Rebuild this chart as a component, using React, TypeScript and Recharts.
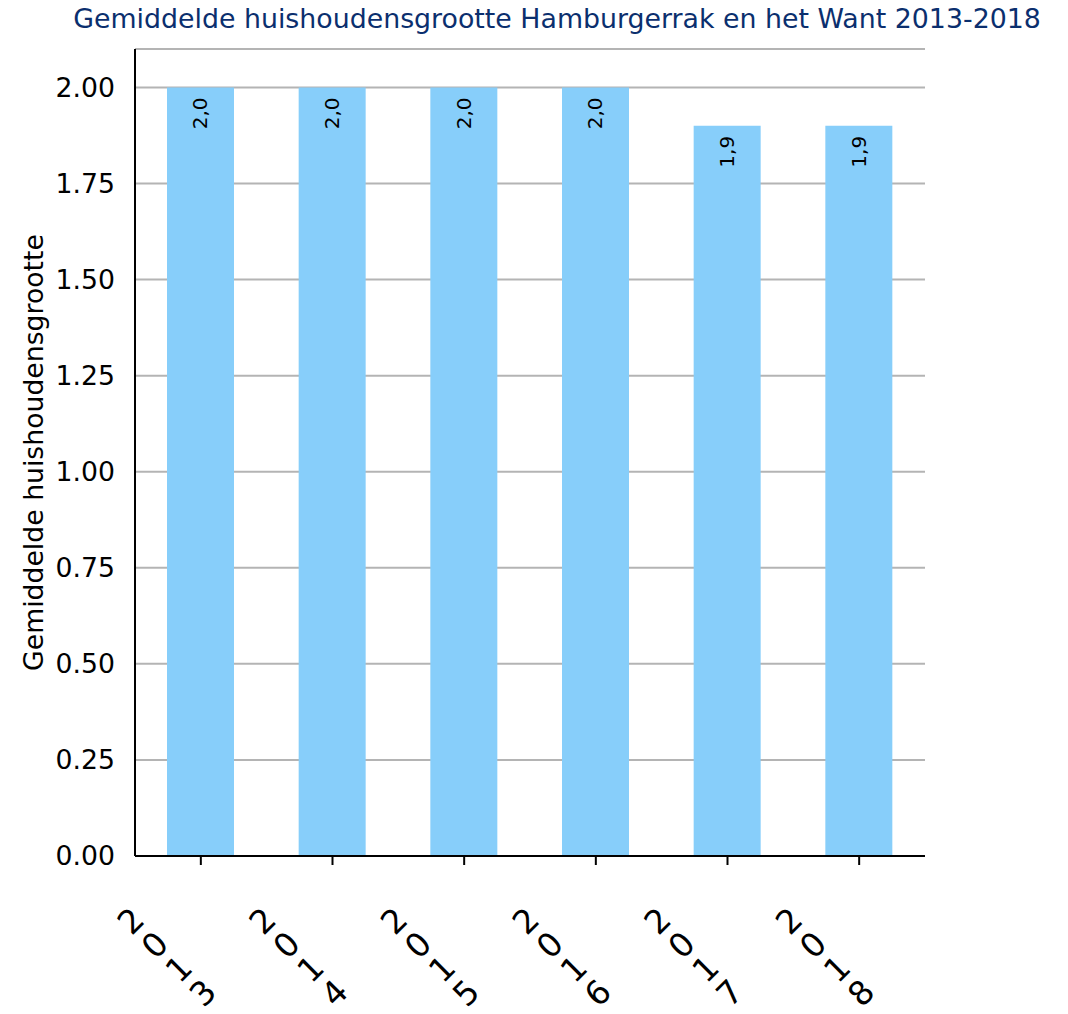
import { Bar, BarChart, CartesianGrid, LabelList, XAxis, YAxis } from "recharts";

const years = ["2013", "2014", "2015", "2016", "2017", "2018"];
const householdSize = [2.0, 2.0, 2.0, 2.0, 1.9, 1.9];
const yTicks = [0, 0.25, 0.5, 0.75, 1.0, 1.25, 1.5, 1.75, 2.0];

const data = years.map((year, i) => ({ year, size: householdSize[i] }));

const FONT = "'DejaVu Sans', sans-serif";
const TITLE = "Gemiddelde huishoudensgrootte Hamburgerrak en het Want 2013-2018";
const Y_TITLE = "Gemiddelde huishoudensgrootte";

// year labels: characters stacked along a 45° line, each glyph turned -45°
function YearTick(props: any) {
    const { x, y, payload } = props;
    const chars = String(payload.value).split("");
    return (
        <g>
            {chars.map((c, i) => {
                const cx = x - 70 + i * 24;
                const cy = y + 56 + i * 24;
                return (
                    <text
                        key={i}
                        x={cx}
                        y={cy}
                        transform={`rotate(-45 ${cx} ${cy})`}
                        textAnchor="middle"
                        dominantBaseline="central"
                        fontSize={33}
                        fontFamily={FONT}
                        fill="#000"
                    >
                        {c}
                    </text>
                );
            })}
        </g>
    );
}

function ValueLabel(props: any) {
    const { x, y, width, value } = props;
    const cx = x + width / 2;
    const cy = y + 10;
    return (
        <text
            x={cx}
            y={cy}
            transform={`rotate(-90 ${cx} ${cy})`}
            textAnchor="end"
            dominantBaseline="central"
            fontSize={20}
            fontFamily={FONT}
            fill="#000"
        >
            {Number(value).toFixed(1).replace(".", ",")}
        </text>
    );
}

function YTitle(props: any) {
    const vb = props.viewBox || { x: 0, y: 49, width: 135, height: 807 };
    const cx = 33;
    const cy = vb.y + vb.height / 2;
    return (
        <text
            x={cx}
            y={cy}
            transform={`rotate(-90 ${cx} ${cy})`}
            textAnchor="middle"
            dominantBaseline="central"
            fontSize={26.7}
            fontFamily={FONT}
            fill="#000"
        >
            {Y_TITLE}
        </text>
    );
}

export default function App() {
    return (
        <div style={{ position: "absolute", left: 0, top: 0, width: 1068, height: 1014, background: "#fff" }}>
            <BarChart
                width={1068}
                height={1014}
                data={data}
                margin={{ top: 49, right: 143, bottom: 0, left: 0 }}
            >
                <CartesianGrid vertical={false} stroke="#b4b4b4" strokeWidth={2} />
                <XAxis
                    dataKey="year"
                    interval={0}
                    height={158}
                    tickSize={9}
                    tickMargin={0}
                    tickLine={{ stroke: "#000", strokeWidth: 2 }}
                    axisLine={{ stroke: "#000", strokeWidth: 2 }}
                    tick={<YearTick />}
                />
                <XAxis
                    xAxisId="top"
                    dataKey="year"
                    orientation="top"
                    height={0}
                    tick={false}
                    tickLine={false}
                    axisLine={{ stroke: "#000", strokeWidth: 2 }}
                />
                <YAxis
                    width={135}
                    domain={[0, 2.1]}
                    ticks={yTicks}
                    tickFormatter={(v: number) => v.toFixed(2)}
                    tickLine={false}
                    tickSize={0}
                    tickMargin={20}
                    tick={{ fontSize: 26.7, fontFamily: FONT, fill: "#000" }}
                    axisLine={{ stroke: "#000", strokeWidth: 2 }}
                    label={<YTitle />}
                />
                <YAxis
                    yAxisId="right"
                    orientation="right"
                    width={0}
                    domain={[0, 2.1]}
                    tick={false}
                    tickLine={false}
                    axisLine={{ stroke: "#000", strokeWidth: 2 }}
                />
                <Bar dataKey="size" fill="#87cefa" barSize={67} isAnimationActive={false}>
                    <LabelList dataKey="size" content={<ValueLabel />} />
                </Bar>
            </BarChart>
            <svg width={1068} height={40} style={{ position: "absolute", left: 0, top: 0 }}>
                <text x={557} y={28} textAnchor="middle" fontSize={26.8} fontFamily={FONT} fill="#0b2f6e">
                    {TITLE}
                </text>
            </svg>
        </div>
    );
}
